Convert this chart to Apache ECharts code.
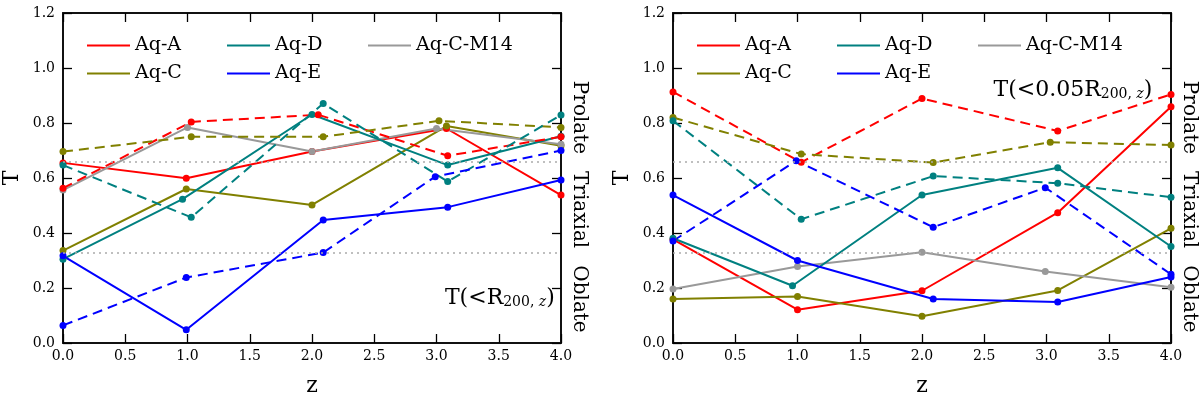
<!DOCTYPE html>
<html>
<head>
<meta charset="utf-8">
<script src="https://cdn.jsdelivr.net/npm/echarts@6/dist/echarts.min.js"></script>
<style>
  html, body { margin: 0; background: #fff; }
  #chart { width: 1200px; height: 394px; }
</style>
</head>
<body>
<div id="chart"></div>
<script>
// [z, T] pairs; solid = T(<R200,z) panel / inner panel, dashed = second set
const leftA = [[0, 0.655], [0.99, 0.599], [2.0, 0.696], [3.08, 0.78], [4, 0.538]];
const leftADash = [[0, 0.563], [1.03, 0.804], [2.05, 0.83], [3.09, 0.681], [4, 0.75]];
const leftC = [[0, 0.336], [0.99, 0.56], [2.0, 0.502], [3.08, 0.789], [4, 0.717]];
const leftCDash = [[0, 0.696], [1.03, 0.75], [2.09, 0.75], [3.02, 0.808], [4, 0.784]];
const leftM14 = [[0, 0.556], [1.0, 0.784], [2.0, 0.696], [3.0, 0.78], [4, 0.723]];
const leftD = [[0, 0.305], [0.96, 0.523], [2.0, 0.831], [3.09, 0.647], [4, 0.752]];
const leftDDash = [[0, 0.647], [1.03, 0.457], [2.09, 0.871], [3.09, 0.587], [4, 0.829]];
const leftE = [[0, 0.317], [0.99, 0.048], [2.09, 0.447], [3.09, 0.494], [4, 0.593]];
const leftEDash = [[0, 0.064], [0.99, 0.238], [2.09, 0.329], [2.99, 0.605], [4, 0.70]];

const rightA = [[0, 0.377], [1.0, 0.121], [2.0, 0.19], [3.09, 0.474], [4, 0.859]];
const rightADash = [[0, 0.913], [1.03, 0.657], [2.0, 0.889], [3.09, 0.771], [4, 0.904]];
const rightC = [[0, 0.16], [1.0, 0.169], [2.0, 0.097], [3.09, 0.191], [4, 0.417]];
const rightCDash = [[0, 0.82], [1.03, 0.687], [2.09, 0.656], [3.03, 0.73], [4, 0.72]];
const rightM14 = [[0, 0.196], [1.0, 0.278], [2.0, 0.33], [2.99, 0.26], [4, 0.203]];
const rightD = [[0, 0.381], [0.96, 0.208], [2.0, 0.538], [3.09, 0.637], [4, 0.351]];
const rightDDash = [[0, 0.808], [1.03, 0.45], [2.09, 0.607], [3.09, 0.581], [4, 0.53]];
const rightE = [[0, 0.538], [1.0, 0.30], [2.09, 0.16], [3.09, 0.149], [4, 0.24]];
const rightEDash = [[0, 0.371], [0.99, 0.663], [2.09, 0.421], [2.99, 0.565], [4, 0.25]];

const shapeBounds = [0.33, 0.66];
const shapeLabels = ['Prolate', 'Triaxial', 'Oblate'];
const shapeCenters = [0.82, 0.485, 0.16];

const colors = {
  'Aq-A': '#ff0000',
  'Aq-C': '#808000',
  'Aq-C-M14': '#999999',
  'Aq-D': '#008080',
  'Aq-E': '#0000ff',
};

const panels = [
  {
    solid: { 'Aq-A': leftA, 'Aq-C': leftC, 'Aq-C-M14': leftM14, 'Aq-D': leftD, 'Aq-E': leftE },
    dashed: { 'Aq-A': leftADash, 'Aq-C': leftCDash, 'Aq-D': leftDDash, 'Aq-E': leftEDash },
  },
  {
    solid: { 'Aq-A': rightA, 'Aq-C': rightC, 'Aq-C-M14': rightM14, 'Aq-D': rightD, 'Aq-E': rightE },
    dashed: { 'Aq-A': rightADash, 'Aq-C': rightCDash, 'Aq-D': rightDDash, 'Aq-E': rightEDash },
  },
];

const FONT = 'DejaVu Serif';
const gridLefts = [63, 673];
const GRID_TOP = 13, GRID_W = 498, GRID_H = 330;

const chart = echarts.init(document.getElementById('chart'), null, { renderer: 'canvas' });

const grids = gridLefts.map((l) => ({
  left: l, top: GRID_TOP, width: GRID_W, height: GRID_H, outerBoundsMode: 'none',
}));

const xAxes = [];
const yAxes = [];
gridLefts.forEach((_, g) => {
  const tick = { show: true, inside: true, length: 9, lineStyle: { color: '#000', width: 1.3 } };
  const line = { show: true, onZero: false, lineStyle: { color: '#111', width: 2 } };
  xAxes.push({
    type: 'value', gridIndex: g, position: 'bottom', min: 0, max: 4, interval: 0.5,
    name: 'z', nameLocation: 'middle', nameGap: 32,
    nameTextStyle: { fontFamily: FONT, fontSize: 22, color: '#000' },
    axisLine: line, axisTick: tick, splitLine: { show: false },
    axisLabel: { margin: 6, fontFamily: FONT, fontSize: 14, color: '#000', formatter: (v) => v.toFixed(1) },
  });
  xAxes.push({
    type: 'value', gridIndex: g, position: 'top', min: 0, max: 4, interval: 0.5,
    axisLine: line, axisTick: tick, splitLine: { show: false }, axisLabel: { show: false },
  });
  yAxes.push({
    type: 'value', gridIndex: g, position: 'left', min: 0, max: 1.2, interval: 0.2,
    name: 'T', nameLocation: 'middle', nameGap: 40, nameRotate: 90,
    nameTextStyle: { fontFamily: FONT, fontSize: 22, color: '#000' },
    axisLine: line, axisTick: tick, splitLine: { show: false },
    axisLabel: { margin: 8, fontFamily: FONT, fontSize: 14, color: '#000', formatter: (v) => v.toFixed(1) },
  });
  yAxes.push({
    type: 'value', gridIndex: g, position: 'right', min: 0, max: 1.2, interval: 0.2,
    axisLine: line, axisTick: tick, splitLine: { show: false }, axisLabel: { show: false },
  });
});

const series = [];
panels.forEach((p, g) => {
  let first = true;
  Object.keys(p.solid).forEach((name) => {
    const s = {
      type: 'line', name: name, xAxisIndex: g * 2, yAxisIndex: g * 2,
      data: p.solid[name], symbol: 'circle', symbolSize: 7,
      lineStyle: { color: colors[name], width: 2 },
      itemStyle: { color: colors[name], borderWidth: 0 },
      animation: false,
    };
    if (first) {
      s.markLine = {
        silent: true, symbol: 'none', label: { show: false },
        lineStyle: { color: '#aaaaaa', type: [2, 4], width: 1.5 },
        data: shapeBounds.map((v) => ({ yAxis: v })),
      };
      first = false;
    }
    series.push(s);
  });
  Object.keys(p.dashed).forEach((name) => {
    series.push({
      type: 'line', name: name + ' dashed', xAxisIndex: g * 2, yAxisIndex: g * 2,
      data: p.dashed[name], symbol: 'circle', symbolSize: 7,
      lineStyle: { color: colors[name], width: 2, type: [10, 6] },
      itemStyle: { color: colors[name], borderWidth: 0 },
      animation: false,
    });
  });
});

const legendCols = [['Aq-A', 'Aq-C'], ['Aq-D', 'Aq-E'], ['Aq-C-M14']];
const legendOffsets = [19, 159, 300];
const legends = [];
gridLefts.forEach((l) => {
  legendCols.forEach((col, i) => {
    legends.push({
      data: col, orient: 'vertical', left: l + legendOffsets[i], top: 31,
      icon: 'rect', itemWidth: 43, itemHeight: 2, itemGap: 9, selectedMode: false,
      textStyle: { fontFamily: FONT, fontSize: 19, color: '#000' },
    });
  });
});

chart.setOption({
  animation: false,
  backgroundColor: '#fff',
  grid: grids,
  xAxis: xAxes,
  yAxis: yAxes,
  legend: legends,
  series: series,
});

// annotations placed through the axes
const graphics = [];
gridLefts.forEach((_, g) => {
  shapeLabels.forEach((txt, i) => {
    const pt = chart.convertToPixel({ gridIndex: g }, [4, shapeCenters[i]]);
    graphics.push({
      type: 'text', x: pt[0] + 18, y: pt[1], rotation: -Math.PI / 2,
      style: { text: txt, fontFamily: FONT, fontSize: 20, fill: '#000', align: 'center', verticalAlign: 'middle' },
    });
  });
});
const rich = {
  m: { fontFamily: FONT, fontSize: 22, fill: '#000', lineHeight: 28, verticalAlign: 'bottom' },
  s: { fontFamily: FONT, fontSize: 14, fill: '#000', lineHeight: 20, verticalAlign: 'bottom' },
  si: { fontFamily: FONT, fontSize: 14, fontStyle: 'italic', fill: '#000', lineHeight: 20, verticalAlign: 'bottom' },
};
const labelLeft = chart.convertToPixel({ gridIndex: 0 }, [3.95, 0.175]);
graphics.push({
  type: 'text', x: labelLeft[0], y: labelLeft[1],
  style: { text: '{m|T(<R}{s|200, }{si|z}{m|)}', rich: rich, align: 'right', verticalAlign: 'middle' },
});
const labelRight = chart.convertToPixel({ gridIndex: 1 }, [3.85, 0.93]);
graphics.push({
  type: 'text', x: labelRight[0], y: labelRight[1],
  style: { text: '{m|T(<0.05R}{s|200, }{si|z}{m|)}', rich: rich, align: 'right', verticalAlign: 'middle' },
});
chart.setOption({ graphic: graphics });
</script>
</body>
</html>
